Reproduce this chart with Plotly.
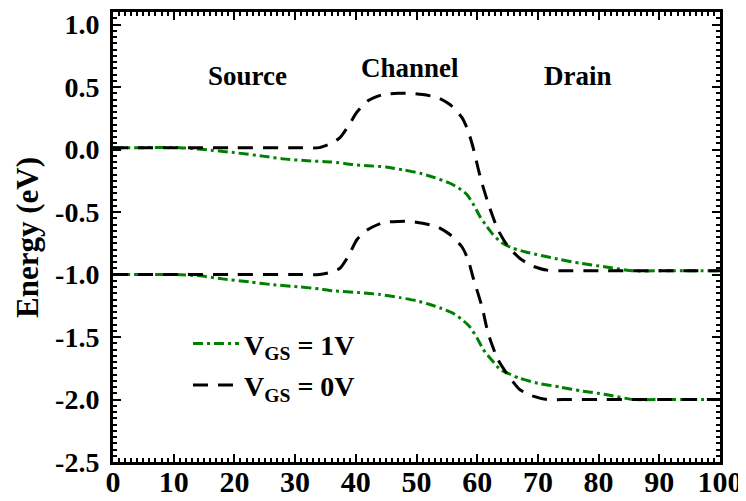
import plotly.graph_objects as go

# ---- data ----
# V_GS = 1V (green dash-dot): conduction band (upper) and valence band (lower)
x_g_up = [0, 5, 11, 15, 20, 25, 28, 32, 36, 39.5, 42, 45, 48, 50.6, 53, 55.5, 57, 58.3,
          59.5, 60.5, 61.5, 62.6, 64, 65.9, 68, 69.8, 73.6, 77, 81.2, 85.7, 90, 95, 100]
y_g_up = [0.015, 0.015, 0.015, 0.0, -0.025, -0.055, -0.075, -0.09, -0.10, -0.12, -0.13, -0.14,
          -0.165, -0.19, -0.225, -0.27, -0.31, -0.36, -0.45, -0.54, -0.61, -0.68, -0.745,
          -0.79, -0.82, -0.84, -0.88, -0.91, -0.94, -0.97, -0.97, -0.97, -0.97]

x_g_lo = [0, 10, 14.3, 18, 22.6, 26, 30.8, 34, 36.2, 40.7, 44, 47.3, 50, 52.2, 54, 56, 57.5,
          58.8, 60, 61, 62.5, 63.8, 65.5, 67, 70, 73.6, 77, 81.2, 85.7, 90, 100]
y_g_lo = [-1.0, -1.0, -1.01, -1.035, -1.06, -1.08, -1.10, -1.115, -1.13, -1.145, -1.16,
          -1.185, -1.21, -1.24, -1.27, -1.31, -1.36, -1.42, -1.51, -1.60, -1.69, -1.76,
          -1.80, -1.83, -1.87, -1.90, -1.93, -1.96, -2.0, -2.0, -2.0]

# V_GS = 0V (black dashed)
x_k_up = [0, 10, 20, 30, 34, 36, 37.4, 38.8, 40.2, 42, 44.5, 47, 49, 51, 53.5, 55.5, 57.5,
          58.5, 59.3, 60.5, 61.8, 63.4, 65, 67, 69, 71.5, 75, 80, 90, 100]
y_k_up = [0.015, 0.015, 0.015, 0.015, 0.015, 0.05, 0.095, 0.19, 0.30, 0.39, 0.44, 0.45, 0.45,
          0.44, 0.415, 0.36, 0.255, 0.15, 0.02, -0.22, -0.43, -0.64, -0.77, -0.87, -0.93,
          -0.965, -0.97, -0.97, -0.97, -0.97]

x_k_lo = [0, 10, 20, 30, 34, 36, 37.4, 38.8, 40.2, 42, 44.5, 47, 49, 51, 53.5, 55.5, 57.5,
          58.5, 59.3, 60.8, 61.8, 63.4, 65, 67, 69, 71.5, 75, 80, 90, 100]
y_k_lo = [-1.0, -1.0, -1.0, -1.0, -1.0, -0.98, -0.95, -0.85, -0.72, -0.64, -0.585, -0.575,
          -0.575, -0.59, -0.62, -0.68, -0.78, -0.88, -1.02, -1.26, -1.47, -1.68, -1.80,
          -1.92, -1.97, -2.0, -2.0, -2.0, -2.0, -2.0]

y_tick_vals = [1.0, 0.5, 0.0, -0.5, -1.0, -1.5, -2.0, -2.5]
y_tick_text = ["1.0", "0.5", "0.0", "-0.5", "-1.0", "-1.5", "-2.0", "-2.5"]
x_tick_vals = [0, 10, 20, 30, 40, 50, 60, 70, 80, 90, 100]

region_labels = ["Source", "Channel", "Drain"]
region_x = [22.2, 48.9, 76.6]
region_y = [0.59, 0.655, 0.585]

legend_names = ["V<sub>GS</sub> = 1V", "V<sub>GS</sub> = 0V"]

FONT = "Liberation Serif"
GREEN = "#008000"

fig = go.Figure()

green_line = dict(color=GREEN, width=3, dash="10px,4px,3px,4px", shape="spline", smoothing=0.6)
black_line = dict(color="black", width=3, dash="15px,10px", shape="spline", smoothing=0.6)

fig.add_trace(go.Scatter(x=x_g_up, y=y_g_up, mode="lines", line=green_line,
                         name=legend_names[0], legendgroup="g", showlegend=True))
fig.add_trace(go.Scatter(x=x_g_lo, y=y_g_lo, mode="lines", line=green_line,
                         name=legend_names[0], legendgroup="g", showlegend=False))
fig.add_trace(go.Scatter(x=x_k_up, y=y_k_up, mode="lines", line=black_line,
                         name=legend_names[1], legendgroup="k", showlegend=True))
fig.add_trace(go.Scatter(x=x_k_lo, y=y_k_lo, mode="lines", line=black_line,
                         name=legend_names[1], legendgroup="k", showlegend=False))

for t, xv, yv in zip(region_labels, region_x, region_y):
    fig.add_annotation(x=xv, y=yv, text=t, showarrow=False,
                       font=dict(family=FONT, size=27, color="black", weight="bold"))

fig.add_annotation(x=-0.1417, y=0.5, xref="paper", yref="paper", text="Energy (eV)",
                   textangle=-90, showarrow=False, xanchor="center", yanchor="middle",
                   font=dict(family=FONT, size=31, color="black", weight="bold"))

# page body has an 8px margin, so the figure is placed 8px right and 8px down
fig.update_layout(
    width=738, height=493,
    margin=dict(l=105, r=26, t=4, b=39, autoexpand=False),
    paper_bgcolor="white", plot_bgcolor="white",
    font=dict(family=FONT, color="black"),
    showlegend=True,
    legend=dict(x=0.1236, y=0.318, xanchor="left", yanchor="top",
                bgcolor="rgba(0,0,0,0)", tracegroupgap=2, itemwidth=46,
                font=dict(family=FONT, size=28, color="black", weight="bold")),
)

fig.update_xaxes(
    range=[0, 100], tickvals=x_tick_vals, automargin=False,
    showline=True, linewidth=3, linecolor="black", mirror="ticks",
    ticks="inside", ticklen=8, tickwidth=2, tickcolor="black",
    minor=dict(ticks="inside", ticklen=4, tickwidth=1.5, dtick=1, tickcolor="black"),
    showgrid=False, zeroline=False, ticklabelstandoff=-9,
    tickfont=dict(family=FONT, size=30, color="black", weight="bold"),
)
fig.update_yaxes(
    range=[-2.5, 1.1], tickvals=y_tick_vals, ticktext=y_tick_text, automargin=False,
    showline=True, linewidth=3, linecolor="black", mirror="ticks",
    ticks="inside", ticklen=8, tickwidth=2, tickcolor="black",
    minor=dict(ticks="inside", ticklen=4, tickwidth=1.5, dtick=0.05, tickcolor="black"),
    showgrid=False, zeroline=False, ticklabelstandoff=5,
    tickfont=dict(family=FONT, size=28, color="black", weight="bold"),
)

fig.write_html("out.html")
